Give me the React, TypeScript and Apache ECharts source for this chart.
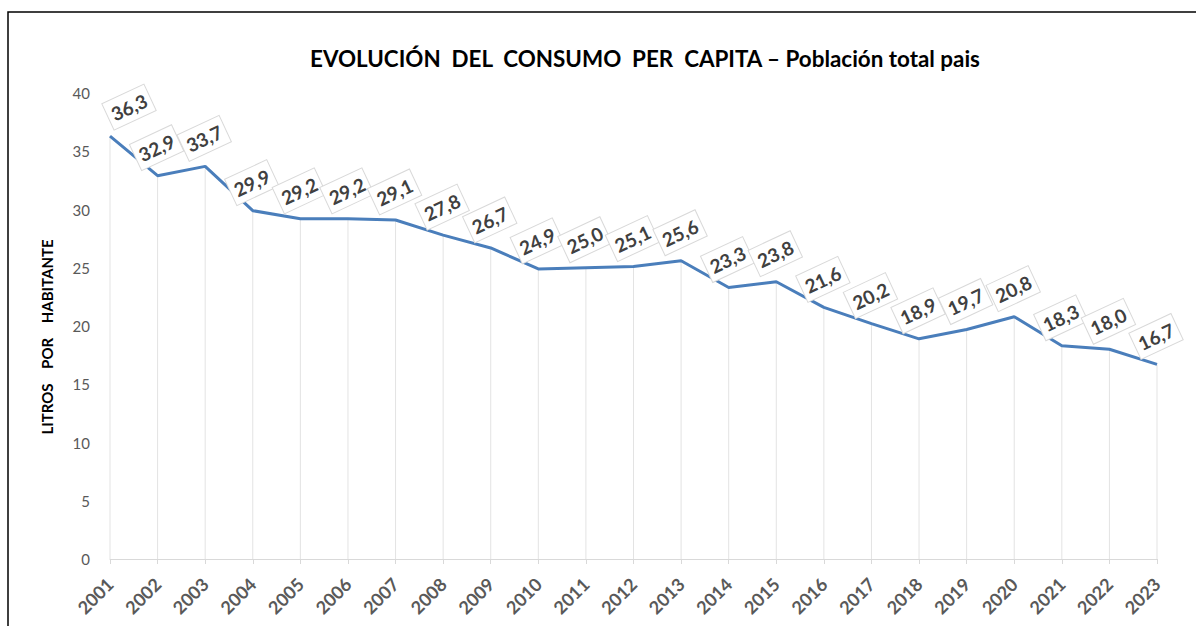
import React, { useEffect, useRef } from "react";
import * as echarts from "echarts";

const years = ["2001","2002","2003","2004","2005","2006","2007","2008","2009","2010","2011","2012","2013","2014","2015","2016","2017","2018","2019","2020","2021","2022","2023"];
const values = [36.3,32.9,33.7,29.9,29.2,29.2,29.1,27.8,26.7,24.9,25.0,25.1,25.6,23.3,23.8,21.6,20.2,18.9,19.7,20.8,18.3,18.0,16.7];
const titleText = "EVOLUCIÓN  DEL  CONSUMO  PER  CAPITA – Población total pais";
const yName = "LITROS    POR    HABITANTE";

const FONT = "Lato, 'Open Sans', sans-serif";
const ROT = 25;

// convert a screen-space offset into the label's rotated local frame
function localOffset(dx: number, dy: number): [number, number] {
  const r = (ROT * Math.PI) / 180;
  const c = Math.cos(r);
  const s = Math.sin(r);
  return [dx * c - dy * s, dx * s + dy * c];
}

export default function App() {
  const ref = useRef<HTMLDivElement>(null);
  useEffect(() => {
    document.body.style.margin = "0";
    const chart = echarts.init(ref.current!, null, { renderer: "svg" });
    chart.setOption({
      animation: false,
      backgroundColor: "#ffffff",
      textStyle: { fontFamily: FONT },
      graphic: [
        {
          type: "rect",
          shape: { x: 8, y: 12, width: 1300, height: 700 },
          style: { fill: "none", stroke: "#000", lineWidth: 1.5 },
          silent: true,
          z: 100,
        },
        {
          type: "text",
          x: 645,
          y: 58,
          style: {
            text: titleText,
            fontFamily: FONT,
            fontSize: 22.4,
            fontWeight: "bold",
            fill: "#000",
            textAlign: "center",
            textVerticalAlign: "middle",
          },
        },
      ],
      grid: { left: 110, right: 39, top: 93, bottom: 67 },
      xAxis: {
        type: "category",
        data: years,
        boundaryGap: false,
        axisLine: { lineStyle: { color: "#d9d9d9", width: 1 } },
        axisTick: { show: true, length: 5, lineStyle: { color: "#d9d9d9" } },
        axisLabel: {
          rotate: 45,
          color: "#595959",
          fontSize: 18,
          fontWeight: "bold",
          fontFamily: FONT,
          margin: 22,
          interval: 0,
        },
        splitLine: { show: false },
      },
      yAxis: {
        type: "value",
        min: 0,
        max: 40,
        interval: 5,
        name: yName,
        nameLocation: "middle",
        nameGap: 56,
        nameTextStyle: {
          color: "#000",
          fontSize: 15,
          fontWeight: "bold",
          fontFamily: FONT,
          padding: [0, 22, 0, 0],
        },
        axisLine: { show: false },
        axisTick: { show: false },
        splitLine: { show: false },
        axisLabel: { color: "#595959", fontSize: 15, margin: 20, fontFamily: FONT },
      },
      series: [
        {
          type: "bar",
          data: values,
          barWidth: 1,
          itemStyle: { color: "#e3e3e3" },
          silent: true,
          z: 1,
        },
        {
          type: "line",
          data: values.map((v, i) =>
            i === 0 ? { value: v, label: { offset: localOffset(19, -29) } } : v
          ),
          symbol: "circle",
          symbolSize: 0,
          showSymbol: true,
          itemStyle: { color: "#4a7ebb" },
          lineStyle: { color: "#4a7ebb", width: 3 },
          z: 3,
          label: {
            show: true,
            position: "inside",
            align: "center",
            verticalAlign: "middle",
            offset: localOffset(-1, -28),
            rotate: ROT,
            formatter: (p: any) => Number(p.value).toFixed(1).replace(".", ","),
            color: "#404040",
            fontSize: 19,
            fontWeight: "bold",
            fontFamily: FONT,
            backgroundColor: "#ffffff",
            borderColor: "#d9d9d9",
            borderWidth: 1,
            padding: [5, 4, 4, 4],
          },
        },
      ],
    });
    return () => chart.dispose();
  }, []);
  return <div ref={ref} style={{ width: 1196, height: 626 }} />;
}
